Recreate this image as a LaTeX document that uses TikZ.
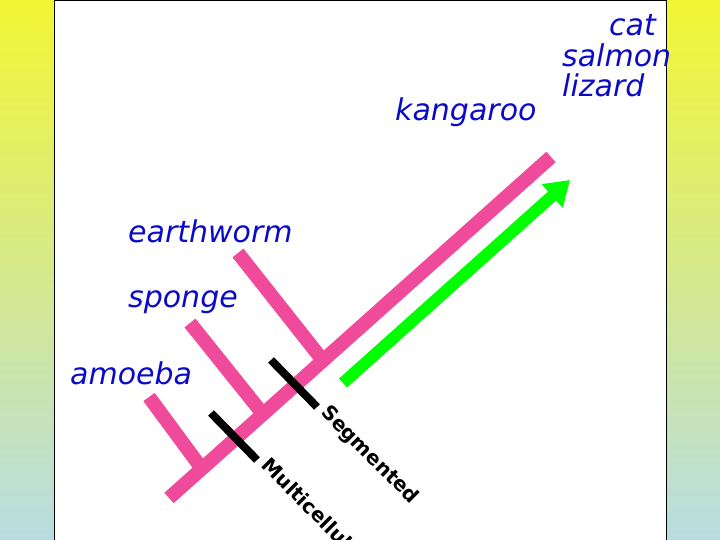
\documentclass[tikz,border=0pt]{standalone}
\usepackage{fontspec}
\setmainfont{DejaVu Sans}
\usepackage{tikz}
\usetikzlibrary{arrows.meta,calc}
\definecolor{cladepink}{RGB}{240,75,155}
\definecolor{labelblue}{RGB}{10,10,200}
\definecolor{bgyellow}{RGB}{243,246,52}
\definecolor{bgblue}{RGB}{184,221,226}
\tikzset{
  branch/.style={cladepink,line width=14pt},
  traitbar/.style={black,line width=8pt},
  taxon/.style={labelblue,font=\fontsize{30}{30}\selectfont\itshape,inner sep=0pt},
  traitname/.style={font=\fontsize{20}{20}\selectfont\bfseries,anchor=mid west,rotate=-45,inner sep=3pt}
}

\begin{document}
\begin{tikzpicture}[x=1pt,y=1pt]
\useasboundingbox (0,0) rectangle (720,540);
\shade[top color=bgyellow,bottom color=bgblue] (0,0) rectangle (720,540);
\filldraw[fill=white,draw=black,line width=1pt] (54,-2) rectangle (666,539.5);
% tree
\coordinate (root) at (169,42);
\coordinate (top) at (551,383);
\coordinate (j1) at ($(root)!0.086!(top)$);
\coordinate (j2) at ($(root)!0.246!(top)$);
\coordinate (j3) at ($(root)!0.403!(top)$);
\coordinate (amoebatip) at (149,143);
\coordinate (spongetip) at (190,217);
\coordinate (wormtip) at (238,287);
\draw[branch] (amoebatip) -- (j1);
\draw[branch] (spongetip) -- (j2);
\draw[branch] (wormtip) -- (j3);
\draw[branch] (root) -- (top);
% traits
\coordinate (multiA) at (211,127);\coordinate (multiB) at (257,80);
\coordinate (segA) at (271,180);\coordinate (segB) at (317,133);
\draw[traitbar] (multiA) -- (multiB) node[traitname,black] (multi) {Multicellular};
\draw[traitbar] (segA) -- (segB) node[traitname,black] (seg) {Segmented};
% time arrow
\coordinate (arrowfrom) at (343,157);
\coordinate (arrowto) at (570,360);
\draw[green,line width=12pt,-{Triangle[length=24pt,width=30pt]}] (arrowfrom) -- (arrowto);
% taxa
\node[taxon,anchor=base east] (cat) at (656,504) {cat};
\node[taxon,anchor=base west] (salmon) at (562,473) {salmon};
\node[taxon,anchor=base west] (lizard) at (562,443) {lizard};
\node[taxon,anchor=base west] (kangaroo) at (395,419) {kangaroo};
\node[taxon,anchor=base west] (earthworm) at (128,297) {earthworm};
\node[taxon,anchor=base west] (sponge) at (128,232) {sponge};
\node[taxon,anchor=base west] (amoeba) at (70,155) {amoeba};
\end{tikzpicture}
\end{document}
